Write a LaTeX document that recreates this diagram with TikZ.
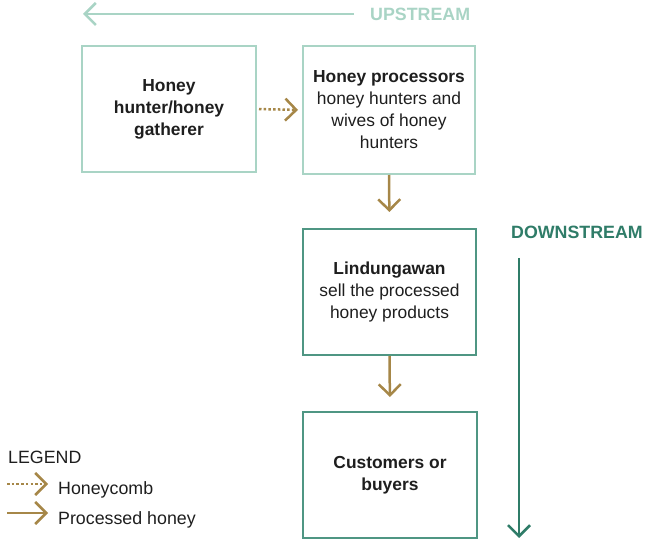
\documentclass[tikz,border=0pt]{standalone}
\usepackage{fontspec}
\setmainfont{Liberation Sans}
\usetikzlibrary{arrows.meta}
\definecolor{lightteal}{HTML}{A9D4C5}
\definecolor{midteal}{HTML}{4F9683}
\definecolor{darkteal}{HTML}{2F7C68}
\definecolor{gold}{HTML}{A68748}
\definecolor{txt}{HTML}{1E1E1E}
\tikzset{
  boxa/.style={draw=lightteal, line width=2pt, minimum width=172pt, minimum height=126pt, align=center, text=txt, inner sep=0pt, font=\fontsize{17.4}{22}\selectfont},
  boxb/.style={boxa, draw=midteal},
  goldarrow/.style={draw=gold, line width=2.5pt, -{Straight Barb[length=11pt, width=22pt, line width=2.5pt]}},
  dotarrow/.style={goldarrow, dash pattern=on 2.5pt off 2.2pt},
  txtstyle/.style={text=txt, inner sep=0pt, font=\fontsize{17.8}{22}\selectfont},
  streamtext/.style={anchor=west, inner sep=0pt, font=\fontsize{17.8}{20}\selectfont\bfseries},
}
\begin{document}
\begin{tikzpicture}[x=1pt, y=-1pt]
\useasboundingbox (0,0) rectangle (649,540);
% stream arrows
\node[streamtext, text=lightteal] (up) at (370,14) {UPSTREAM};
\coordinate (upend) at (83,14);
\draw[draw=lightteal, line width=2.5pt, -{Straight Barb[length=11pt, width=22pt, line width=2.5pt]}] (up.west) ++(-16,0) -- (upend);
\node[streamtext, text=darkteal] (down) at (511,232) {DOWNSTREAM};
\coordinate (downstart) at (519,258);
\coordinate (downend) at (519,538);
\draw[draw=darkteal, line width=2.5pt, -{Straight Barb[length=11pt, width=22pt, line width=2.5pt]}] (downstart) -- (downend);
% boxes
\node[boxa, minimum width=174pt] (b1) at (169,109) {\textbf{Honey}\\\textbf{hunter/honey}\\\textbf{gatherer}};
\node[boxa, minimum height=128pt] (b2) at (389,110) {\textbf{Honey processors}\\honey hunters and\\wives of honey\\hunters};
\node[boxb, minimum width=173pt] (b3) at (389.5,292) {\textbf{Lindungawan}\\sell the processed\\honey products};
\node[boxb, minimum width=174pt, minimum height=126pt] (b4) at (390,475) {\textbf{Customers or}\\\textbf{buyers}};
% connectors
\draw[dotarrow, shorten <=2pt, shorten >=4pt] (b1.east) -- (b2.west);
\draw[goldarrow, shorten >=16pt] (b2.south) -- (b3.north);
\draw[goldarrow, shorten >=14pt] (b3.south) -- (b4.north);
% legend
\node[txtstyle, anchor=west] (leg) at (8,457) {LEGEND};
\coordinate (l1s) at (7,484);
\coordinate (l1e) at (48,484);
\coordinate (l2s) at (7,513);
\coordinate (l2e) at (48,513);
\draw[dotarrow] (l1s) -- (l1e);
\draw[goldarrow] (l2s) -- (l2e);
\node[txtstyle, anchor=west] (hc) at (58,490) {Honeycomb};
\node[txtstyle, anchor=west] (ph) at (58,520) {Processed honey};
\end{tikzpicture}
\end{document}
